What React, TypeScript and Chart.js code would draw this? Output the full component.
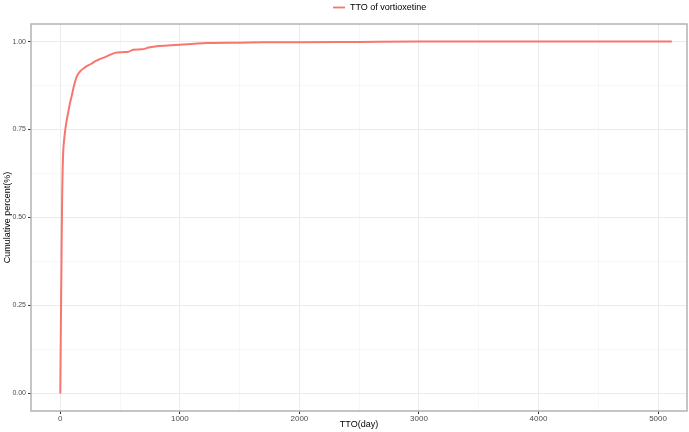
import React, { useEffect, useRef } from "react";
import { Chart, registerables } from "chart.js";

Chart.register(...registerables);

const seriesLabel = "TTO of vortioxetine";
const ttoDays = [0, 2, 4, 7, 10, 12, 15, 17, 20, 25, 32, 40, 53, 67, 81, 95, 115, 137, 165, 200, 221, 260, 290, 330, 374, 420, 458, 520, 569, 611, 681, 740, 807, 900, 1002, 1100, 1225, 1500, 1700, 2006, 2500, 3000, 5115];
const cumPercent = [0, 0.08, 0.16, 0.27, 0.37, 0.45, 0.54, 0.59, 0.64, 0.69, 0.72, 0.745, 0.775, 0.8, 0.825, 0.845, 0.875, 0.9, 0.915, 0.925, 0.93, 0.937, 0.944, 0.95, 0.956, 0.963, 0.968, 0.97, 0.971, 0.977, 0.978, 0.983, 0.987, 0.989, 0.991, 0.993, 0.996, 0.997, 0.998, 0.998, 0.999, 1.0, 1.0];
const xTicks = [0, 500, 1000, 1500, 2000, 2500, 3000, 3500, 4000, 4500, 5000];
const yTicks = [0, 0.125, 0.25, 0.375, 0.5, 0.625, 0.75, 0.875, 1];
const lineColor = "#F8766D";

export default function App() {
  const ref = useRef<HTMLCanvasElement>(null);
  useEffect(() => {
    document.body.style.margin = "0";
    const ctx = ref.current!;
    const legendPlugin = {
      id: "customLegend",
      afterDraw(chart: any) {
        const c = chart.ctx;
        c.save();
        c.strokeStyle = lineColor;
        c.lineWidth = 1.8;
        c.beginPath();
        c.moveTo(333, 7.5);
        c.lineTo(345, 7.5);
        c.stroke();
        c.fillStyle = "#000";
        c.font = "9px 'Liberation Sans', Arial, sans-serif";
        c.textBaseline = "middle";
        c.fillText(seriesLabel, 350, 8);
        c.restore();
      },
    };
    const borderPlugin = {
      id: "panelBorder",
      afterDatasetsDraw(chart: any) {
        const a = chart.chartArea;
        const c = chart.ctx;
        c.save();
        c.strokeStyle = "#B3B3B3";
        c.lineWidth = 1.5;
        c.strokeRect(a.left, a.top, a.right - a.left, a.bottom - a.top);
        c.restore();
      },
    };
    const isMajorX = (v: number) => v % 1000 === 0;
    const isMajorY = (v: number) => Math.abs(v * 4 - Math.round(v * 4)) < 1e-9;
    const chart = new Chart(ctx, {
      type: "scatter",
      data: {
        datasets: [
          {
            label: seriesLabel,
            data: ttoDays.map((d, i) => ({ x: d, y: cumPercent[i] })),
            showLine: true,
            borderColor: lineColor,
            backgroundColor: lineColor,
            borderWidth: 2,
            pointRadius: 0,
            cubicInterpolationMode: "monotone",
          },
        ],
      },
      options: {
        animation: false,
        responsive: false,
        layout: { padding: { top: 24, right: 2, left: 0, bottom: 0 } },
        plugins: { legend: { display: false }, tooltip: { enabled: false } },
        scales: {
          x: {
            type: "linear",
            min: -245,
            max: 5242,
            afterBuildTicks: (s: any) => {
              s.ticks = xTicks.map((v) => ({ value: v }));
            },
            afterFit: (s: any) => {
              s.height = 21;
            },
            grid: {
              color: (c: any) => (isMajorX(c.tick?.value) ? "#EBEBEB" : "#F3F3F3"),
              lineWidth: (c: any) => (isMajorX(c.tick?.value) ? 1 : 0.6),
              tickColor: (c: any) => (isMajorX(c.tick?.value) ? "#333333" : "rgba(0,0,0,0)"),
              tickLength: 3,
              drawTicks: true,
            },
            border: { display: false },
            ticks: {
              padding: 0,
              autoSkip: false,
              maxRotation: 0,
              color: "#4D4D4D",
              font: { size: 8, family: "'Liberation Sans', Arial, sans-serif" },
              callback: (v: any) => (isMajorX(Number(v)) ? String(v) : ""),
            },
            title: {
              display: true,
              text: "TTO(day)",
              color: "#000",
              padding: { top: 0, bottom: 2 },
              font: { size: 9, family: "'Liberation Sans', Arial, sans-serif" },
            },
          },
          y: {
            type: "linear",
            min: -0.05,
            max: 1.05,
            afterBuildTicks: (s: any) => {
              s.ticks = yTicks.map((v) => ({ value: v }));
            },
            afterFit: (s: any) => {
              s.width = 31;
            },
            grid: {
              color: (c: any) => (isMajorY(c.tick?.value) ? "#EBEBEB" : "#F3F3F3"),
              lineWidth: (c: any) => (isMajorY(c.tick?.value) ? 1 : 0.6),
              tickColor: (c: any) => (isMajorY(c.tick?.value) ? "#333333" : "rgba(0,0,0,0)"),
              tickLength: 3,
              drawTicks: true,
            },
            border: { display: false },
            ticks: {
              padding: 2,
              autoSkip: false,
              color: "#4D4D4D",
              font: { size: 7, family: "'Liberation Sans', Arial, sans-serif" },
              callback: (v: any) => (isMajorY(Number(v)) ? Number(v).toFixed(2) : ""),
            },
            title: {
              display: true,
              text: "Cumulative percent(%)",
              color: "#000",
              padding: { top: 2, bottom: 0 },
              font: { size: 9, family: "'Liberation Sans', Arial, sans-serif" },
            },
          },
        },
      },
      plugins: [legendPlugin, borderPlugin],
    });
    return () => chart.destroy();
  }, []);
  return (
    <div style={{ width: 689, height: 432, background: "#fff" }}>
      <canvas ref={ref} width={689} height={432} style={{ display: "block" }} />
    </div>
  );
}
